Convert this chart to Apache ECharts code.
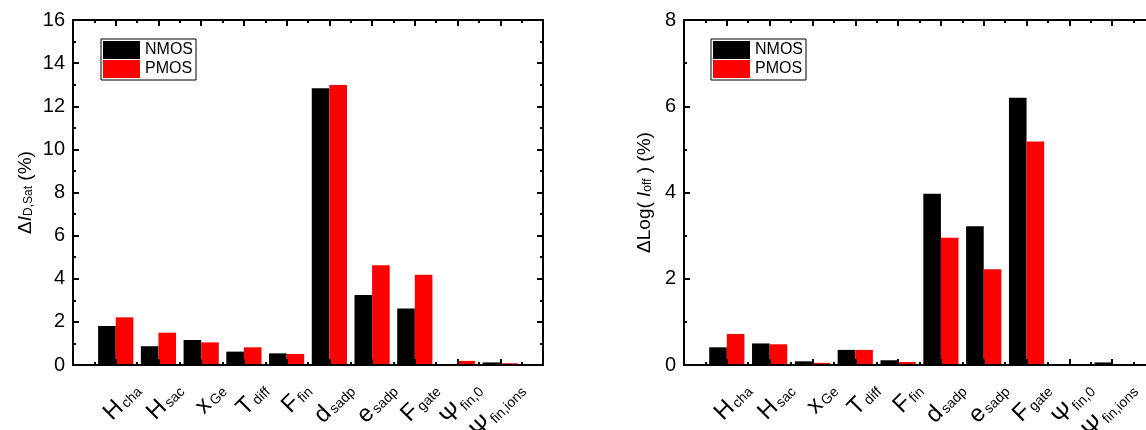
<!DOCTYPE html>
<html><head><meta charset="utf-8">
<script src="https://cdn.jsdelivr.net/npm/echarts@6/dist/echarts.min.js"></script>
<style>html,body{margin:0;padding:0;background:#fff}#c{width:1146px;height:430px}</style>
</head><body><div id="c"></div>
<script>
// ---- data ----
const labelMain = ['H','H','x','T','F','d','e','F','\u03A8','\u03A8'];
const labelSub = ['cha','sac','Ge','diff','fin','sadp','sadp','gate','fin,0','fin,ions'];
const positions = [1,2,3,4,5,6,7,8,9,10];
const nmosIdsat = [1.81,0.87,1.16,0.62,0.54,12.83,3.25,2.62,0,0.12];
const pmosIdsat = [2.21,1.50,1.05,0.82,0.51,12.98,4.63,4.18,0.19,0.08];
const nmosIoff = [0.41,0.50,0.085,0.35,0.11,3.97,3.22,6.20,0,0.06];
const pmosIoff = [0.72,0.48,0.05,0.35,0.07,2.95,2.22,5.18,0.01,0];
const yTicksIdsat = [0,2,4,6,8,10,12,14,16];
const yTicksIoff = [0,2,4,6,8];
const seriesNames = ['NMOS','PMOS'];

const FONT = "'Liberation Sans', Arial, sans-serif";
const BLACK = '#000000', RED = '#ff0000';
const labelOffset = 0.5;

function xAxesFor(gi){
  const common = {
    type:'value', gridIndex:gi, min:0, max:positions.length+1, interval:1, z:5,
    axisLine:{show:true, onZero:false, lineStyle:{color:BLACK, width:2}},
    axisTick:{show:true, inside:true, length:6, lineStyle:{color:BLACK, width:2}},
    minorTick:{show:true, splitNumber:2, length:3, lineStyle:{color:BLACK, width:2}},
    splitLine:{show:false}
  };
  return [
    Object.assign({}, common, {position:'bottom',
      axisLabel:{show:true, customValues: positions.map(p=>p+labelOffset), rotate:45, margin:22,
        hideOverlap:false,
        formatter: v => { const i = Math.round(v - labelOffset) - 1; return '{m|'+labelMain[i]+'}{s|'+labelSub[i]+'}'; },
        rich:{
          m:{fontSize:24, fontFamily:FONT, color:BLACK, verticalAlign:'bottom', padding:[0,2,0,0]},
          s:{fontSize:14, fontFamily:FONT, color:BLACK, verticalAlign:'bottom', padding:[0,0,1,0]}
        }}}),
    Object.assign({}, common, {position:'top', axisLabel:{show:false}})
  ];
}
function yAxesFor(gi, ticks, nameRich, nameText, gap){
  const common = {
    type:'value', gridIndex:gi, min:ticks[0], max:ticks[ticks.length-1], interval:ticks[1]-ticks[0], z:5,
    axisLine:{show:true, onZero:false, lineStyle:{color:BLACK, width:2}},
    axisTick:{show:true, inside:true, length:6, lineStyle:{color:BLACK, width:2}},
    minorTick:{show:true, splitNumber:2, length:3, lineStyle:{color:BLACK, width:2}},
    splitLine:{show:false}
  };
  return [
    Object.assign({}, common, {position:'left',
      axisLabel:{show:true, fontSize:20, fontFamily:FONT, color:BLACK, margin:8},
      name:nameText, nameLocation:'middle', nameGap:gap, nameRotate:90,
      nameTextStyle:{rich:nameRich}}),
    Object.assign({}, common, {position:'right', axisLabel:{show:false}})
  ];
}
const nameRich = {
  a:{fontSize:19, fontFamily:FONT, color:BLACK, verticalAlign:'bottom'},
  i:{fontSize:19, fontFamily:FONT, fontStyle:'italic', color:BLACK, verticalAlign:'bottom'},
  s:{fontSize:12, fontFamily:FONT, color:BLACK, verticalAlign:'bottom'}
};

const xA = xAxesFor(0).concat(xAxesFor(1));
const yA = yAxesFor(0, yTicksIdsat, nameRich, '{a|\u0394}{i|I}{s|D,Sat}{a| (%)}', 38)
  .concat(yAxesFor(1, yTicksIoff, nameRich, '{a|\u0394Log( }{i|I}{s|off}{a| ) (%)}', 30));

function barSeries(name, color, vals, gi){
  return {type:'bar', name:name, xAxisIndex:gi*2, yAxisIndex:gi*2,
    data: vals.map((v,i)=>[positions[i], v]),
    barWidth:17.6, barGap:'0%', itemStyle:{color:color}, z:2, silent:true};
}
function legendFor(left){
  return {show:true, left:left, top:39, orient:'vertical', data:seriesNames, icon:'rect',
    itemWidth:37, itemHeight:18, itemGap:1, padding:[2,3,2,2], borderColor:BLACK, borderWidth:1,
    selectedMode:false, textStyle:{fontSize:16, fontFamily:FONT, color:BLACK}};
}

const chart = echarts.init(document.getElementById('c'), null, {renderer:'canvas'});
chart.setOption({
  animation:false,
  backgroundColor:'#ffffff',
  grid:[{left:73, top:20, width:470, height:345, containLabel:false, outerBoundsMode:'none'},
        {left:684, top:20, width:471, height:345, containLabel:false, outerBoundsMode:'none'}],
  xAxis:xA, yAxis:yA,
  legend:[legendFor(101), legendFor(711)],
  series:[
    barSeries(seriesNames[0], BLACK, nmosIdsat, 0),
    barSeries(seriesNames[1], RED, pmosIdsat, 0),
    barSeries(seriesNames[0], BLACK, nmosIoff, 1),
    barSeries(seriesNames[1], RED, pmosIoff, 1)
  ]
});
</script></body></html>
